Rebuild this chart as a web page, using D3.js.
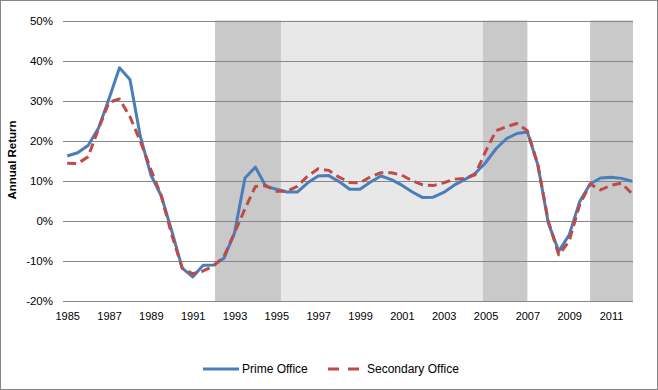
<!DOCTYPE html>
<html>
<head>
<meta charset="utf-8">
<script src="https://cdn.jsdelivr.net/npm/d3@7"></script>
<style>
  body { margin: 0; background: #fff; }
  svg { display: block; font-family: "Liberation Sans", Arial, sans-serif; }
</style>
</head>
<body>
<svg id="chart" width="658" height="390"></svg>
<script>
// half-yearly observations, 1985 to 2012
var periods = [];
for (var p = 0; p < 55; p++) periods.push(1985 + p / 2);

var prime = [16.2, 17.0, 18.8, 23.2, 30.5, 38.2, 35.3, 21.0, 11.5, 6.2,
  -2.5, -11.8, -14.0, -11.1, -11.0, -9.3, -3.0, 10.7, 13.4, 8.6,
  7.9, 7.2, 7.2, 9.5, 11.2, 11.3, 9.8, 7.9, 7.9, 9.7,
  11.2, 10.3, 8.9, 7.2, 5.8, 5.9, 7.1, 8.9, 10.3, 11.8,
  14.5, 18.0, 20.5, 21.8, 22.2, 14.0, -0.5, -7.6, -3.5, 4.8,
  9.2, 10.7, 10.9, 10.6, 9.9];

var secondary = [14.4, 14.3, 16.0, 23.0, 29.6, 30.4, 26.0, 19.8, 12.8, 6.2,
  -3.5, -11.8, -13.2, -12.5, -11.3, -8.8, -3.0, 3.0, 8.6, 8.8,
  7.4, 7.4, 8.6, 11.2, 13.0, 12.6, 10.9, 9.6, 9.5, 11.0,
  12.0, 12.0, 11.4, 10.0, 9.0, 8.8, 9.5, 10.4, 10.6, 11.5,
  17.3, 22.5, 23.5, 24.3, 22.5, 14.0, 0.0, -8.5, -5.0, 4.0,
  9.2, 7.7, 8.9, 9.4, 6.8];

// shaded cycle phases
var bandStart = [1992.07, 1995.22, 2004.88, 2010.0];
var bandEnd   = [1995.22, 2004.88, 2007.0, 2012.05];
var bandTone  = ["dark", "light", "dark", "dark"];

var yTicks = [-20, -10, 0, 10, 20, 30, 40, 50];
var xTicks = [1985, 1987, 1989, 1991, 1993, 1995, 1997, 1999, 2001, 2003, 2005, 2007, 2009, 2011];

var seriesNames = ["Prime Office", "Secondary Office"];

var svg = d3.select("#chart");

svg.append("rect")
  .attr("x", 0.5).attr("y", 0.5)
  .attr("width", 657).attr("height", 389)
  .attr("fill", "#fff").attr("stroke", "#868686");

var x = d3.scaleLinear().domain([1984.8, 2012.05]).range([63, 633]);
var y = d3.scaleLinear().domain([-20, 50]).range([301, 20.5]);

var toneColor = { dark: "#c9c9c9", light: "#e8e8e8" };

svg.append("g").selectAll("rect")
  .data(bandStart)
  .enter().append("rect")
    .attr("x", function(d) { return x(d); })
    .attr("y", y(50))
    .attr("width", function(d, i) { return x(bandEnd[i]) - x(d); })
    .attr("height", y(-20) - y(50))
    .attr("fill", function(d, i) { return toneColor[bandTone[i]]; });

// gridlines
svg.append("g").selectAll("line")
  .data(yTicks)
  .enter().append("line")
    .attr("x1", x.range()[0]).attr("x2", x.range()[1])
    .attr("y1", function(d) { return Math.round(y(d)) + 0.5; })
    .attr("y2", function(d) { return Math.round(y(d)) + 0.5; })
    .attr("stroke", "#878787")
    .attr("stroke-width", 1);

// y axis labels
var yAxis = d3.axisLeft(y).tickValues(yTicks)
  .tickFormat(function(d) { return d + "%"; })
  .tickSize(0).tickPadding(10);
var gy = svg.append("g").attr("transform", "translate(63,0)").call(yAxis);
gy.select(".domain").remove();
gy.selectAll("text").attr("font-size", 11.5).attr("fill", "#000")
  .attr("font-family", "Liberation Sans, Arial, sans-serif");

// x axis labels
var xAxis = d3.axisBottom(x).tickValues(xTicks)
  .tickFormat(d3.format("d")).tickSize(0).tickPadding(11);
var gx = svg.append("g").attr("transform", "translate(0,301)").call(xAxis);
gx.select(".domain").remove();
gx.selectAll("text").attr("font-size", 11).attr("fill", "#000")
  .attr("font-family", "Liberation Sans, Arial, sans-serif");

svg.append("text")
  .attr("transform", "translate(16,160) rotate(-90)")
  .attr("text-anchor", "middle")
  .attr("font-size", 11.5).attr("font-weight", "bold")
  .text("Annual Return");

var line = d3.line()
  .x(function(d, i) { return x(periods[i]); })
  .y(function(d) { return y(d); });

svg.append("path")
  .datum(prime)
  .attr("d", line)
  .attr("fill", "none")
  .attr("stroke", "#4a7ebb")
  .attr("stroke-width", 3)
  .attr("stroke-linejoin", "round");

svg.append("path")
  .datum(secondary)
  .attr("d", line)
  .attr("fill", "none")
  .attr("stroke", "#be4b48")
  .attr("stroke-width", 3)
  .attr("stroke-dasharray", "9,5")
  .attr("stroke-linejoin", "round");

// legend
var legend = svg.append("g").attr("transform", "translate(0,369)");
legend.append("line")
  .attr("x1", 203).attr("x2", 239).attr("y1", 0).attr("y2", 0)
  .attr("stroke", "#4a7ebb").attr("stroke-width", 3);
legend.append("text")
  .attr("x", 242).attr("y", 4)
  .attr("font-size", 12)
  .text(seriesNames[0]);
legend.append("line")
  .attr("x1", 328).attr("x2", 362).attr("y1", 0).attr("y2", 0)
  .attr("stroke", "#be4b48").attr("stroke-width", 3)
  .attr("stroke-dasharray", "11,9");
legend.append("text")
  .attr("x", 367).attr("y", 4)
  .attr("font-size", 12)
  .text(seriesNames[1]);
</script>
</body>
</html>
